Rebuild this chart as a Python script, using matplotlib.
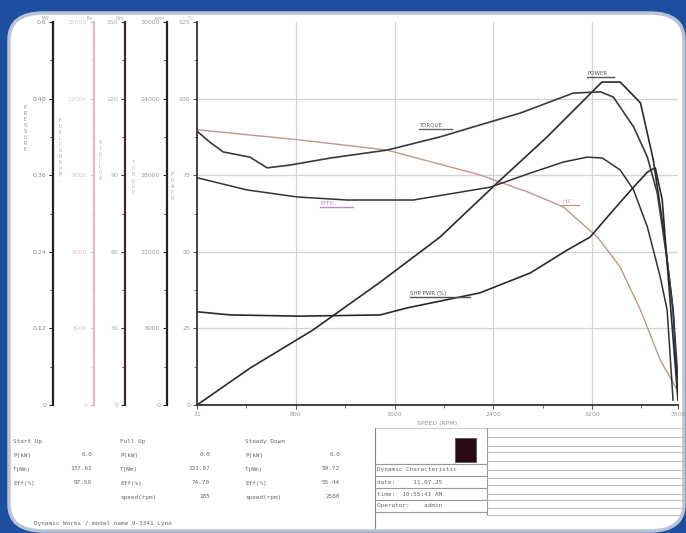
import matplotlib.pyplot as plt
from matplotlib.patches import FancyBboxPatch, Rectangle
from matplotlib.lines import Line2D
import numpy as np

W, H = 686, 533

# ---- curve data (speed in rpm, value on 0..125 scale) ----
power_rpm = [0, 540, 1175, 1855, 2460, 3040, 3545, 4100, 4285, 4490, 4620, 4720, 4820, 4870]
power_val = [0, 12.1, 24.5, 40.1, 54.8, 72.5, 87.5, 105.4, 105.4, 98.6, 80.0, 58.1, 31.0, 2.0]

torque_rpm = [10, 130, 265, 535, 710, 940, 1350, 1925, 2460, 2865, 3275, 3810, 4085, 4215, 4420, 4560, 4660, 4760, 4820, 4870]
torque_val = [89.1, 85.8, 82.6, 80.9, 77.4, 78.3, 80.6, 83.2, 87.5, 91.4, 95.3, 101.8, 102.2, 100.5, 90.8, 80.9, 69.2, 47.3, 31.0, 8.2]

hc_rpm = [10, 1045, 1925, 2190, 2865, 3375, 3710, 4055, 4285, 4490, 4690, 4870]
hc_val = [89.8, 86.5, 83.2, 80.9, 75.1, 69.2, 64.6, 54.8, 45.0, 31.0, 14.7, 4.5]

eff_rpm = [10, 505, 1015, 1520, 2190, 2970, 3375, 3710, 3950, 4105, 4285, 4420, 4560, 4690, 4760, 4820]
eff_val = [74.1, 70.2, 67.9, 66.9, 66.9, 71.1, 75.7, 79.3, 80.9, 80.6, 76.7, 70.2, 58.1, 41.8, 31.0, 1.6]

shp_rpm = [10, 335, 1045, 1855, 2130, 2865, 3375, 3750, 3980, 4215, 4420, 4560, 4640, 4710, 4790, 4870]
shp_val = [30.4, 29.4, 29.0, 29.4, 31.7, 36.6, 43.1, 50.6, 54.8, 63.6, 71.1, 76.0, 77.4, 67.0, 34.0, 1.6]

x_ticks = [0, 1000, 2000, 3000, 4000, 4870]
x_tick_labels = ['11', '800', '1600', '2400', '3200', '3500']
y_ticks = [0, 25, 50, 75, 100, 125]

# left auxiliary scales: (pixel x, line colour, label colour, tick labels bottom->top)
aux_scales = [
    (53, '#222222', '#888888', ['0', '0.12', '0.24', '0.36', '0.48', '0.6']),
    (94, '#d9bfc6', '#e0c4cc', ['0', '3000', '6000', '9000', '12000', '15000']),
    (125, '#3a2a2a', '#b0a8a8', ['0', '30', '60', '90', '120', '150']),
    (167, '#222222', '#999999', ['0', '6000', '12000', '18000', '24000', '30000']),
]
aux_units = ['kW', 'l/h', 'Nm', 'rpm', '%']
aux_names = [(25, 105, 'PRESSURE', '#888888'), (60, 118, 'FUEL CONSUM.', '#aaaaaa'),
             (100, 140, 'AIR FLOW', '#bbbbbb'), (133, 160, 'TORQUE', '#c0b8b8'),
             (172, 172, 'POWER', '#aaaaaa')]

start_rows = [('Start Up', ''), ('P(kW)', '0.0'), ('T(Nm)', '137.61'), ('Eff(%)', '97.50')]
full_rows = [('Full Up', ''), ('P(kW)', '0.0'), ('T(Nm)', '131.07'), ('Eff(%)', '74.70'), ('speed(rpm)', '185')]
down_rows = [('Steady Down', ''), ('P(kW)', '0.0'), ('T(Nm)', '59.72'), ('Eff(%)', '55.44'), ('speed(rpm)', '2580')]
info_rows = ['Dynamic Characteristic', 'date:     11.07.25', 'time:  10:55:41 AM', 'Operator:    admin']


def fx(px):
    return px / W


def fy(py):
    return 1 - py / H


fig = plt.figure(figsize=(W / 100, H / 100), dpi=100)
fig.patch.set_facecolor('#1d4f9e')

# white rounded panel
panel = FancyBboxPatch((fx(9), fy(531)), fx(675), 518 / H,
                       boxstyle='round,pad=0,rounding_size=0.05',
                       transform=fig.transFigure, facecolor='white',
                       edgecolor='#b8c4d4', linewidth=2.5, zorder=-5)
fig.add_artist(panel)

# ---- main chart ----
ax = fig.add_axes([fx(197), fy(405), fx(481), 383 / H])
ax.set_xlim(0, 4870)
ax.set_ylim(0, 125)
ax.patch.set_alpha(0)
for s in ['top', 'right']:
    ax.spines[s].set_visible(False)
for s in ['left', 'bottom']:
    ax.spines[s].set_color('#333333')
    ax.spines[s].set_linewidth(1.3)

ax.set_xticks(x_ticks)
ax.set_xticklabels(x_tick_labels)
ax.set_xticks([500, 1500, 2500, 3500, 4500], minor=True)
ax.set_yticks(y_ticks)
ax.set_yticks(np.arange(12.5, 125, 25), minor=True)
ax.tick_params(axis='both', which='major', labelsize=4.5, colors='#555555',
               labelcolor='#999999', length=3, pad=2)
ax.tick_params(axis='both', which='minor', length=2, colors='#555555')
for v in [1000, 2000, 3000, 4000]:
    ax.axvline(v, color='#d4d4d4', lw=0.9, zorder=0)
for v in [25, 50, 75, 100]:
    ax.axhline(v, color='#d4d4d4', lw=0.9, zorder=0)

ax.plot(hc_rpm, hc_val, color='#c09888', lw=1.0)
ax.plot(power_rpm, power_val, color='#2a2a2a', lw=1.2)
ax.plot(torque_rpm, torque_val, color='#353a48', lw=1.2)
ax.plot(eff_rpm, eff_val, color='#333333', lw=1.1)
ax.plot(shp_rpm, shp_val, color='#2a2a2a', lw=1.2)
ax.set_xlabel('SPEED (RPM)', fontsize=4.5, color='#999999', labelpad=3)

# curve labels with underline
curve_labels = [(3950, 107.5, 'POWER', '#555555'), (2250, 90.5, 'TORQUE', '#666666'),
                (1250, 65.0, 'EFFIC.', '#c48ad0'), (3700, 65.5, 'H.C', '#c09888'),
                (2160, 35.5, 'SHP PWR (%)', '#555555')]
for x, y, t, c in curve_labels:
    ax.text(x, y, t, fontsize=4, color=c, ha='left', va='bottom')
    ax.plot([x, x + len(t) * 55], [y - 0.3, y - 0.3], color=c, lw=1.0)

# ---- auxiliary scales at the left ----
for px, lc, tc, labels in aux_scales:
    a = fig.add_axes([fx(px), fy(405), 1e-5, 383 / H])
    a.set_ylim(0, 125)
    a.set_xticks([])
    a.patch.set_alpha(0)
    for s in ['top', 'right', 'bottom']:
        a.spines[s].set_visible(False)
    a.spines['left'].set_color(lc)
    a.spines['left'].set_linewidth(1.6)
    a.set_yticks(y_ticks)
    a.set_yticklabels(labels)
    a.set_yticks(np.arange(12.5, 125, 25), minor=True)
    a.tick_params(axis='y', which='major', labelsize=4.5, colors=lc,
                  labelcolor=tc, length=3, pad=2)
    a.tick_params(axis='y', which='minor', length=2, colors=lc)

for px, u in zip([45, 90, 120, 160, 190], aux_units):
    fig.text(fx(px), fy(21), u, fontsize=3.5, color='#aaaaaa', ha='center', va='bottom')

for px, py, name, c in aux_names:
    fig.text(fx(px), fy(py), '\n'.join(name.replace(' ', '')), fontsize=3.5,
             color=c, ha='center', va='top', linespacing=1.25, family='DejaVu Sans Mono')

# ---- bottom-left summary ----
mono = dict(family='DejaVu Sans Mono', fontsize=4.3, color='#666666')
for i, (k, v) in enumerate(start_rows):
    fig.text(fx(13), fy(441 + i * 14), k, va='center', **mono)
    fig.text(fx(92), fy(441 + i * 14), v, va='center', ha='right', **mono)
for i, (k, v) in enumerate(full_rows):
    fig.text(fx(120), fy(441 + i * 14), k, va='center', **mono)
    fig.text(fx(210), fy(441 + i * 14), v, va='center', ha='right', **mono)
for i, (k, v) in enumerate(down_rows):
    fig.text(fx(245), fy(441 + i * 14), k, va='center', **mono)
    fig.text(fx(340), fy(441 + i * 14), v, va='center', ha='right', **mono)
fig.text(fx(34), fy(523), 'Dynamic Works / model name 9-3341 Lynn', va='center', **mono)

# ---- info box bottom-right ----
def fline(x0, y0, x1, y1, c='#999999', lw=0.8):
    fig.add_artist(Line2D([fx(x0), fx(x1)], [fy(y0), fy(y1)], color=c, lw=lw,
                          transform=fig.transFigure))

fline(375, 428, 683, 428, '#cccccc')
fline(375, 428, 375, 528, '#888888')
fline(375, 464, 487, 464)
fline(487, 428, 487, 515)
for i in range(4):
    fline(375, 476 + i * 12, 487, 476 + i * 12)
for py in [437, 446, 452, 461, 470, 478, 485, 494, 500, 508, 515]:
    fline(487, py, 683, py, '#bbbbbb', 0.7)
fig.add_artist(Rectangle((fx(455), fy(462)), fx(21), 24 / H, transform=fig.transFigure,
                         facecolor='#2a0a12', edgecolor='#555555', lw=0.6))
for i, t in enumerate(info_rows):
    fig.text(fx(377), fy(470 + i * 12), t, va='center', **mono)

fig.savefig('out.png', dpi=100, facecolor=fig.get_facecolor())
